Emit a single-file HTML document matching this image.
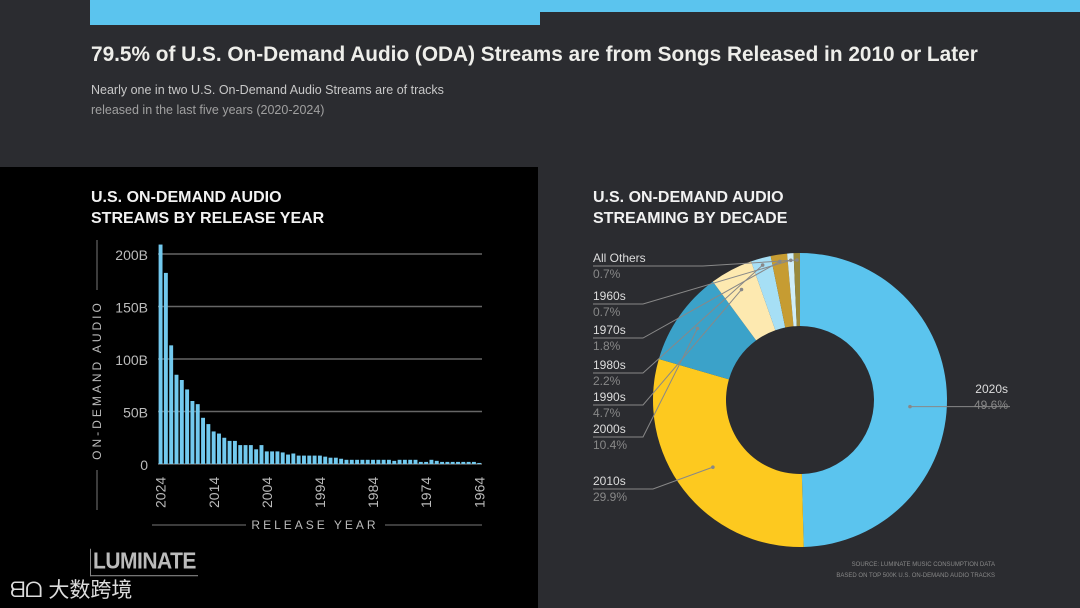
<!DOCTYPE html>
<html><head><meta charset="utf-8"><style>
body{margin:0;width:1080px;height:608px;overflow:hidden;background:#2b2c30;font-family:"Liberation Sans","Noto Sans CJK SC",sans-serif;position:relative}
.abs{position:absolute}
</style></head><body>
<div class="abs" style="left:0;top:0;width:1080px;height:167px;background:#2b2c30"></div>
<div class="abs" style="left:90px;top:0;width:450px;height:25px;background:#5bc4ee"></div>
<div class="abs" style="left:540px;top:0;width:540px;height:12px;background:#5bc4ee"></div>
<div class="abs" style="left:91px;top:43px;font-size:20.8px;font-weight:bold;color:#eeeeea;white-space:nowrap">79.5% of U.S. On-Demand Audio (ODA) Streams are from Songs Released in 2010 or Later</div>
<div class="abs" style="left:91px;top:80px;font-size:12.5px;line-height:20px;color:#c8c8c8">Nearly one in two U.S. On-Demand Audio Streams are of tracks<br><span style="color:#a0a0a0">released in the last five years (2020-2024)</span></div>
<div class="abs" style="left:0;top:167px;width:538px;height:441px;background:#000"></div>
<div class="abs" style="left:538px;top:167px;width:542px;height:441px;background:#2b2c30"></div>
<div class="abs" style="left:91px;top:187px;font-size:16px;font-weight:bold;color:#f2f2f2;line-height:21px">U.S. ON-DEMAND AUDIO<br>STREAMS BY RELEASE YEAR</div>
<div class="abs" style="left:593px;top:187px;font-size:16px;font-weight:bold;color:#f2f2f2;line-height:21px">U.S. ON-DEMAND AUDIO<br>STREAMING BY DECADE</div>
<div class="abs" style="left:90px;top:550px;font-size:21px;font-weight:bold;color:#bbb;border-left:1px solid #888;border-bottom:1px solid #888;padding:0 2px;letter-spacing:-0.5px;transform:scaleY(1.1)">LUMINATE</div>
<div class="abs" style="left:10px;top:574px;font-size:21px;color:#ddd">ᗺᗝ 大数跨境</div>
<div class="abs" style="left:790px;top:560px;font-size:6px;color:#888;text-align:right;width:205px;line-height:11px">SOURCE: LUMINATE MUSIC CONSUMPTION DATA<br>BASED ON TOP 500K U.S. ON-DEMAND AUDIO TRACKS</div>
<svg class="abs" style="left:0;top:0" width="1080" height="608" id="svg"></svg>
<script>
const years=[];for(let y=2024;y>=1964;y--)years.push(y);
const streamsB=[209,182,113,85,80,71,60,57,44,38,31,29,25,22,22,18,18,18,14,18,12,12,12,11,9,10,8,8,8,8,8,7,6,6,5,4,4,4,4,4,4,4,4,4,3,4,4,4,4,2,2,4,3,2,2,2,2,2,2,2,1];
const yTicks=[0,50,100,150,200];
const yTickLabels=["0","50B","100B","150B","200B"];
const xTickYears=[2024,2014,2004,1994,1984,1974,1964];
const decades=["2020s","2010s","2000s","1990s","1980s","1970s","1960s","All Others"];
const shares=[49.6,29.9,10.4,4.7,2.2,1.8,0.7,0.7];
const colors=["#5bc4ee","#fdc91f","#3ba2c9","#fde9b0","#a6dff5","#c69c32","#cfeef9","#9a8a3c"];
const NS="http://www.w3.org/2000/svg",svg=document.getElementById('svg');
function mk(t,a,p){const e=document.createElementNS(NS,t);for(const k in a)e.setAttribute(k,a[k]);(p||svg).appendChild(e);return e}
const x0=158,x1=482,y0=464,pxB=1.05,bw=(x1-x0)/years.length;
const yS=v=>y0-v*pxB, xS=i=>x0+i*bw;
yTicks.forEach((t,i)=>{const l=mk('line',{x1:x0,x2:x1,y1:yS(t),y2:yS(t),stroke:'#666','stroke-width':1.5});

const tx=mk('text',{x:148,y:yS(t)+6,'text-anchor':'end',fill:'#bbb','font-size':14});tx.textContent=yTickLabels[i];
});
streamsB.forEach((v,i)=>{const r=mk('rect',{x:xS(i)+0.6,y:yS(v),width:bw-1.4,height:v*pxB,fill:'#72c9ee'});
});
xTickYears.forEach(y=>{const i=years.indexOf(y);const cx=xS(i)+bw/2+5;
const t=mk('text',{x:0,y:0,fill:'#bbb','font-size':14,transform:`translate(${cx},508) rotate(-90)`});t.textContent=y;
});
let e=mk('line',{x1:152,x2:246,y1:525,y2:525,stroke:'#777'});
e=mk('line',{x1:385,x2:482,y1:525,y2:525,stroke:'#777'});
e=mk('text',{x:315,y:529,'text-anchor':'middle',fill:'#bbb','font-size':12,'letter-spacing':3});e.textContent='RELEASE YEAR';

e=mk('text',{x:0,y:0,'text-anchor':'middle',fill:'#bbb','font-size':12,'letter-spacing':3,transform:'translate(101,380) rotate(-90)'});e.textContent='ON-DEMAND AUDIO';

e=mk('line',{x1:97,x2:97,y1:240,y2:290,stroke:'#777'});
e=mk('line',{x1:97,x2:97,y1:470,y2:510,stroke:'#777'});
// donut
const cx=800,cy=400,R=147,r0=74;const tot=shares.reduce((a,b)=>a+b,0);
const pt=(a,rad)=>[cx+rad*Math.sin(a),cy-rad*Math.cos(a)];
let acc=0;const mids=[];
shares.forEach((s,i)=>{const a0=acc/tot*2*Math.PI;acc+=s;const a1=acc/tot*2*Math.PI;mids.push((a0+a1)/2);
const big=a1-a0>Math.PI?1:0;const [ax,ay]=pt(a0,R),[bx,by]=pt(a1,R),[cx2,cy2]=pt(a1,r0),[dx,dy]=pt(a0,r0);
const p=mk('path',{d:`M${ax},${ay}A${R},${R} 0 ${big} 1 ${bx},${by}L${cx2},${cy2}A${r0},${r0} 0 ${big} 0 ${dx},${dy}Z`,fill:colors[i]});
});
const labY={"All Others":258,"1960s":296,"1970s":330,"1980s":365,"1990s":397,"2000s":429,"2010s":481};
decades.forEach((d,i)=>{const g=mk('g',{});
const [px,py]=pt(mids[i],i<2?110:(i<4?125:140));
let lx,ly,anchor;
if(i===0){lx=1008;ly=389;anchor='end';mk('line',{x1:px,y1:py+8,x2:1010,y2:py+8,stroke:'#888','stroke-width':1},g);mk('circle',{cx:px,cy:py+8,r:1.8,fill:'#888'},g);}
else{lx=593;ly=labY[d];anchor='start';const uy=ly+8;const ux=i===1?593+60:593+50+(i===7?60:0);
mk('polyline',{points:`593,${uy} ${ux},${uy} ${px},${py}`,fill:'none',stroke:'#888','stroke-width':1},g);mk('circle',{cx:px,cy:py,r:1.8,fill:'#888'},g);}
const t1=mk('text',{x:lx,y:ly+4,'text-anchor':anchor,fill:'#ddd','font-size':12},g);t1.textContent=d;
const t2=mk('text',{x:lx,y:ly+20,'text-anchor':anchor,fill:'#888','font-size':12},g);t2.textContent=shares[i]+'%';});
</script>
</body></html>
